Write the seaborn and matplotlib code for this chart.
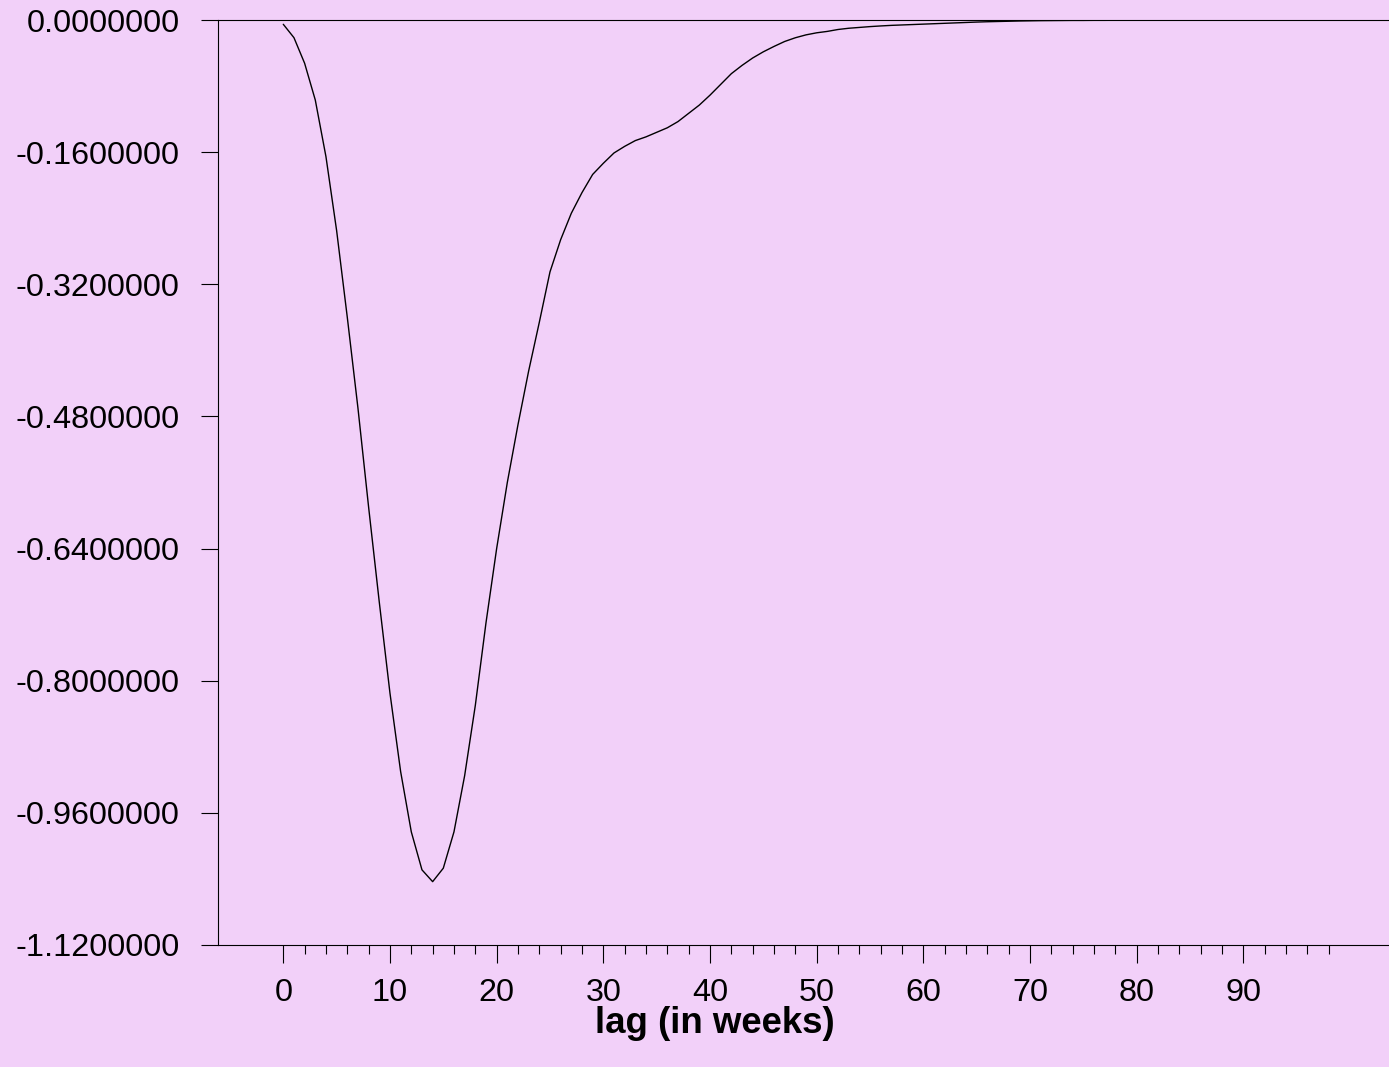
import matplotlib
matplotlib.use("Agg")
import matplotlib.pyplot as plt
import numpy as np
import pandas as pd
import seaborn as sns

# lag in weeks and the response
lags = list(range(0, 100))
response = [
    -0.0052, -0.0214, -0.0524, -0.0969, -0.1655, -0.2550, -0.3600, -0.4700, -0.5900, -0.7050,
    -0.8150, -0.9100, -0.9830, -1.0290, -1.0433, -1.0270, -0.9830, -0.9150, -0.8300, -0.7300,
    -0.6400, -0.5600, -0.4900, -0.4250, -0.3660, -0.3050, -0.2660, -0.2340, -0.2090, -0.1870,
    -0.1735, -0.1610, -0.1530, -0.1460, -0.1415, -0.1360, -0.1305, -0.1230, -0.1130, -0.1030,
    -0.0910, -0.0780, -0.0650, -0.0550, -0.0460, -0.0385, -0.0320, -0.0260, -0.0215, -0.0180,
    -0.0155, -0.0138, -0.0115, -0.0100, -0.0090, -0.0080, -0.0072, -0.0065, -0.0060, -0.0055,
    -0.0050, -0.0045, -0.0040, -0.0035, -0.0030, -0.0025, -0.0021, -0.0018, -0.0015, -0.0012,
    -0.0010, -0.0008, -0.0007, -0.0006, -0.0005, -0.0005, -0.0004, -0.0004, -0.0003, -0.0003,
    -0.0003, -0.0003, -0.0002, -0.0002, -0.0002, -0.0002, -0.0002, -0.0002, -0.0001, -0.0001,
    -0.0001, -0.0001, -0.0001, -0.0001, -0.0001, -0.0001, -0.0001, -0.0001, -0.0001, -0.0001,
]
x_major = list(range(0, 100, 10))
x_minor = [v for v in range(2, 100, 2) if v % 10 != 0]
y_ticks = [0.0, -0.16, -0.32, -0.48, -0.64, -0.80, -0.96, -1.12]

df = pd.DataFrame({"lag": lags, "value": response})

bg = "#f2d0f9"
sns.set_style("ticks")
plt.rcParams["font.family"] = ["Liberation Sans", "DejaVu Sans"]

fig = plt.figure(figsize=(13.89, 10.67), dpi=100, facecolor=bg)
ax = fig.add_axes([218 / 1389, 1 - 945 / 1067, 1 - 218 / 1389, (945 - 20) / 1067])
ax.set_facecolor(bg)

sns.lineplot(data=df, x="lag", y="value", color="black", linewidth=1.0, ax=ax)

ax.set_xlim(-6.12, 103.65)
ax.set_ylim(-1.12, 0.0)

ax.set_xticks(x_major)
ax.set_xticks(x_minor, minor=True)
ax.set_yticks(y_ticks)
ax.set_yticklabels([f"{v:.7f}" for v in y_ticks])

for side in ["left", "top", "bottom"]:
    ax.spines[side].set_visible(True)
    ax.spines[side].set_color("black")
    ax.spines[side].set_linewidth(0.8)
ax.spines["right"].set_visible(False)

ax.tick_params(axis="x", which="major", direction="out", length=13, width=0.8,
               pad=11, labelsize=23.3, colors="black")
ax.tick_params(axis="x", which="minor", direction="out", length=6.5, width=0.8, colors="black")
ax.tick_params(axis="y", which="major", direction="out", length=12, width=0.8,
               pad=15.5, labelsize=23.3, colors="black")
ax.tick_params(top=False, right=False)

ax.set_ylabel("")
ax.set_xlabel("lag (in weeks)", fontsize=26.4, fontweight="bold", color="black")
ax.xaxis.set_label_coords((715 - 218) / (1389 - 218), -0.066)

fig.savefig("out.png", dpi=100, facecolor=bg)
